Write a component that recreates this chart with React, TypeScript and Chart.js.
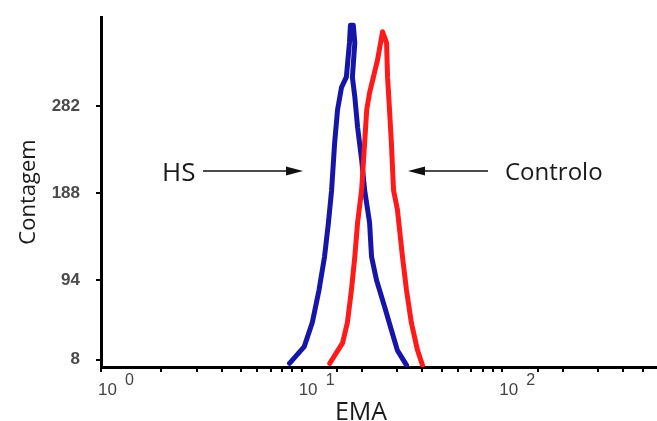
import React, { useEffect, useRef } from "react";
import { Chart, registerables } from "chart.js";

Chart.register(...registerables);

// HS (blue) histogram trace: EMA value (log axis) and count
const hsX = [8.7, 10.3, 11.3, 12.2, 13.0, 13.6, 14.1, 14.6, 15.1, 15.8, 16.7, 17.3, 17.5, 18.1, 18.4, 17.9, 18.4, 19.0, 19.9, 20.6, 21.8, 22.3, 23.6, 25.9, 28.0, 30.0, 33.3];
const hsY = [4, 22, 48, 83, 119, 156, 191, 242, 278, 302, 313, 350, 369, 369, 350, 313, 292, 259, 224, 191, 156, 119, 94, 65, 40, 18, 2];

// Controlo (red) histogram trace
const controlX = [13.8, 16.0, 16.9, 17.7, 18.4, 19.0, 19.9, 20.6, 21.1, 21.8, 23.9, 25.3, 26.5, 26.8, 27.4, 28.0, 28.7, 30.0, 31.8, 33.3, 35.2, 37.8, 40.0];
const controlY = [4, 26, 48, 83, 119, 156, 191, 242, 278, 296, 332, 362, 350, 313, 278, 242, 191, 170, 119, 83, 48, 18, 2];

const yTickValues = [8, 94, 188, 282];
const xDecades = [1, 10, 100];
const xDecadeExponents = ["0", "1", "2"];
const xMin = 1;
const xMax = 590;
const yMin = 0;
const yMax = 378;

export default function App() {
  const ref = useRef<HTMLCanvasElement>(null);

  useEffect(() => {
    const annot = {
      id: "annot",
      afterDraw(chart: any) {
        const ctx = chart.ctx as CanvasRenderingContext2D;
        const xs = chart.scales.x;
        ctx.save();
        // x tick labels 10^n
        ctx.fillStyle = "#444";
        ctx.textBaseline = "alphabetic";
        ctx.textAlign = "left";
        xDecades.forEach((v, i) => {
          const px = xs.getPixelForValue(v);
          ctx.font = "17px 'Liberation Sans'";
          ctx.fillText("10", px - 3, 395);
          ctx.font = "16px 'Liberation Sans'";
          ctx.fillText(xDecadeExponents[i], px + 24, 385);
        });
        // axis titles
        ctx.fillStyle = "#1a1a1a";
        ctx.font = "25px 'Open Sans'";
        ctx.textAlign = "center";
        ctx.fillText("EMA", 361, 420);
        ctx.save();
        ctx.translate(35, 192);
        ctx.rotate(-Math.PI / 2);
        ctx.font = "22px 'Open Sans'";
        ctx.fillText("Contagem", 0, 0);
        ctx.restore();
        // labels
        ctx.textAlign = "left";
        ctx.font = "26px 'Open Sans'";
        ctx.fillText("HS", 162, 181);
        ctx.font = "24px 'Open Sans'";
        ctx.fillText("Controlo", 505, 180);
        // arrows
        ctx.strokeStyle = "#111";
        ctx.fillStyle = "#111";
        ctx.lineWidth = 1.5;
        ctx.beginPath();
        ctx.moveTo(203, 171);
        ctx.lineTo(290, 171);
        ctx.moveTo(422, 171);
        ctx.lineTo(488, 171);
        ctx.stroke();
        ctx.beginPath();
        ctx.moveTo(303, 171);
        ctx.lineTo(286, 166.5);
        ctx.lineTo(286, 175.5);
        ctx.closePath();
        ctx.fill();
        ctx.beginPath();
        ctx.moveTo(408, 171);
        ctx.lineTo(425, 166.5);
        ctx.lineTo(425, 175.5);
        ctx.closePath();
        ctx.fill();
        ctx.restore();
      },
    };

    const chart = new Chart(ref.current as HTMLCanvasElement, {
      type: "scatter",
      data: {
        datasets: [
          {
            label: "HS",
            data: hsX.map((x, i) => ({ x, y: hsY[i] })),
            showLine: true,
            borderColor: "#1515a8",
            backgroundColor: "#1515a8",
            borderWidth: 5,
            pointRadius: 0,
            tension: 0,
            fill: false,
            borderJoinStyle: "round",
            borderCapStyle: "round",
            order: 1,
          },
          {
            label: "Controlo",
            data: controlX.map((x, i) => ({ x, y: controlY[i] })),
            showLine: true,
            borderColor: "#ff1a1a",
            backgroundColor: "#ff1a1a",
            borderWidth: 5,
            pointRadius: 0,
            tension: 0,
            fill: false,
            borderJoinStyle: "round",
            borderCapStyle: "round",
            order: 0,
          },
        ],
      },
      options: {
        responsive: false,
        animation: false,
        layout: { padding: { top: 17, left: 0, right: 0, bottom: 0 } },
        plugins: { legend: { display: false }, tooltip: { enabled: false } },
        scales: {
          x: {
            type: "logarithmic",
            min: xMin,
            max: xMax,
            afterFit: (s: any) => {
              s.height = 54;
              s.paddingLeft = 0;
              s.paddingRight = 0;
            },
            afterBuildTicks: (s: any) => {
              s.ticks = s.ticks.filter((t: any) => t.value < xMax);
            },
            ticks: { autoSkip: false, maxRotation: 0, callback: () => "" },
            grid: { display: true, drawOnChartArea: false, drawTicks: true, tickLength: 5, color: "#000", lineWidth: 2 },
            border: { display: true, color: "#000", width: 3 },
          },
          y: {
            type: "linear",
            min: yMin,
            max: yMax,
            afterFit: (s: any) => {
              s.width = 101;
              s.paddingTop = 0;
              s.paddingBottom = 0;
            },
            afterBuildTicks: (s: any) => {
              s.ticks = yTickValues.map((v) => ({ value: v }));
            },
            ticks: {
              autoSkip: false,
              padding: 16,
              color: "#4a4a4a",
              font: { family: "'Liberation Sans'", size: 17, weight: "bold" },
            },
            grid: { display: true, drawOnChartArea: false, drawTicks: true, tickLength: 5, color: "#000", lineWidth: 2 },
            border: { display: true, color: "#000", width: 3 },
          },
        },
      },
      plugins: [annot],
    });
    return () => chart.destroy();
  }, []);

  return (
    <div style={{ position: "fixed", left: 0, top: 0, width: 657, height: 421, background: "#fff" }}>
      <canvas ref={ref} width={657} height={421} style={{ display: "block" }} />
    </div>
  );
}
